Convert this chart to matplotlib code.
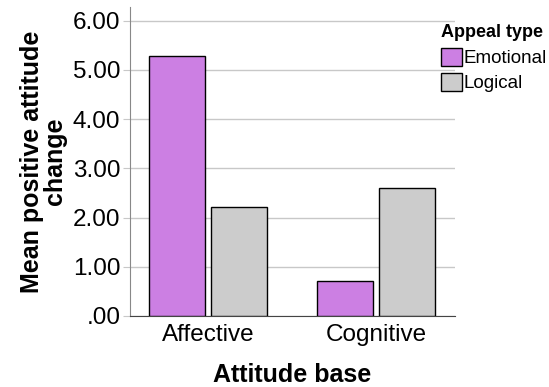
import numpy as np
import matplotlib.pyplot as plt
from matplotlib.patches import Patch

plt.rcParams['font.family'] = ['Liberation Sans', 'DejaVu Sans']

# data
bases = ["Affective", "Cognitive"]
appeal_types = ["Emotional", "Logical"]
emotional = [5.28, 0.72]
logical = [2.21, 2.60]
yticks = [0, 1, 2, 3, 4, 5, 6]
ytick_labels = [".00", "1.00", "2.00", "3.00", "4.00", "5.00", "6.00"]

colors = ["#cc7fe3", "#cccccc"]

fig = plt.figure(figsize=(5.49, 3.87), dpi=100)
ax = fig.add_axes([130 / 549, 1 - 316 / 387, 325 / 549, 309 / 387])

x = np.arange(len(bases))
w = 0.333
off = 0.185
ax.bar(x - off, emotional, w, color=colors[0], edgecolor="black", linewidth=1, zorder=3)
ax.bar(x + off, logical, w, color=colors[1], edgecolor="black", linewidth=1, zorder=3)

ax.set_xlim(-0.464, 1.47)
ax.set_ylim(0, 6.28)
ax.set_yticks(yticks)
ax.set_yticklabels(ytick_labels)
ax.set_xticks(x)
ax.set_xticklabels(bases)
ax.tick_params(axis="y", labelsize=17.5, length=5, color="#c8c8c8", pad=2)
ax.tick_params(axis="x", labelsize=17.5, length=0, pad=6)
ax.yaxis.grid(True, color="#c8c8c8", linewidth=1, zorder=0)

for s in ["top", "right"]:
    ax.spines[s].set_visible(False)
ax.spines["left"].set_color("#888888")
ax.spines["bottom"].set_color("#444444")

ax.set_xlabel("Attitude base", fontsize=18, fontweight="bold", labelpad=12)
ax.set_ylabel("Mean positive attitude\nchange", fontsize=18, fontweight="bold",
              labelpad=4, linespacing=0.95)

handles = [Patch(facecolor=c, edgecolor="black", label=l) for c, l in zip(colors, appeal_types)]
leg = fig.legend(handles=handles, title="Appeal type", loc="upper left",
                 bbox_to_anchor=(441 / 549, 1 - 24 / 387), frameon=False,
                 fontsize=13.5, title_fontproperties={"weight": "bold", "size": 13},
                 handlelength=1.1, handleheight=1.1, handletextpad=0.1,
                 labelspacing=0.3, borderaxespad=0, borderpad=0)
leg._legend_box.align = "left"
leg._legend_box.sep = 5

fig.savefig("out.png", dpi=100)
